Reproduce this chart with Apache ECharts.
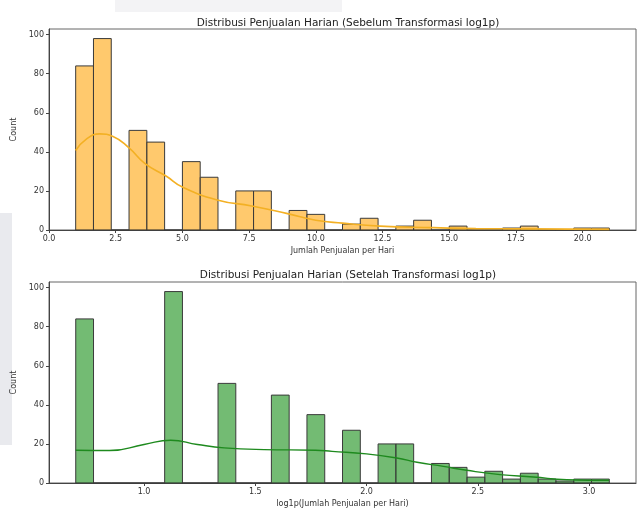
<!DOCTYPE html>
<html>
<head>
<meta charset="utf-8">
<script src="https://cdn.jsdelivr.net/npm/echarts@6/dist/echarts.min.js"></script>
<style>
  html, body { margin: 0; padding: 0; background: #fff; }
  #chart { width: 637px; height: 512px; }
</style>
</head>
<body>
<div id="chart"></div>
<script>
// jumlah penjualan per hari (1..21) dan berapa hari untuk tiap nilai
var salesValues = [1, 2, 3, 4, 5, 6, 7, 8, 9, 10, 11, 12, 13, 14, 15, 16, 17, 18, 19, 20, 21];
var salesCounts = [84, 98, 51, 45, 35, 27, 20, 20, 10, 8, 3, 6, 2, 5, 2, 0, 1, 2, 0, 1, 1];
var binCount = 30;

// kde yang terbaca dari gambar [x, density*count]
var kdeBefore = [[1.0, 40.7], [1.4, 46.5], [1.9, 49.2], [2.4, 47.9], [3.0, 42], [3.6, 34],
  [4.4, 27.5], [5.0, 22], [6.3, 15.4], [7.6, 12.3], [8.9, 8.5], [10.0, 5], [11.0, 3.5],
  [12.4, 2], [14.4, 1.2], [16, 0.7], [18, 0.6], [21, 0.3]];
var kdeAfter = [[0.693, 16.8], [0.845, 16.6], [1.0, 19.7], [1.12, 21.9], [1.24, 19.7],
  [1.36, 18], [1.54, 17.1], [1.77, 16.8], [1.845, 16.2], [2.0, 14.9], [2.136, 12.8],
  [2.227, 10.6], [2.345, 8.5], [2.45, 6.5], [2.6, 4.3], [2.75, 3.1], [2.9, 1.7], [3.09, 1.4]];

var xTicksBefore = [0, 2.5, 5, 7.5, 10, 12.5, 15, 17.5, 20];
var xTicksAfter = [1.0, 1.5, 2.0, 2.5, 3.0];
var yTicks = [0, 20, 40, 60, 80, 100];

// sama seperti histplot bins=30
function histogram(xs, counts, nb) {
  var lo = xs[0], hi = xs[xs.length - 1];
  var w = (hi - lo) / nb;
  var bins = [];
  for (var k = 0; k < nb; k++) bins.push(0);
  xs.forEach(function(x, i) {
    var k = Math.min(nb - 1, Math.floor((x - lo) / w + 1e-9));
    bins[k] += counts[i];
  });
  return bins.map(function(c, k) { return [lo + k * w, lo + (k + 1) * w, c]; });
}

var binsBefore = histogram(salesValues, salesCounts, binCount);
var binsAfter = histogram(salesValues.map(function(v) { return Math.log1p(v); }), salesCounts, binCount);

var font = "'DejaVu Sans', sans-serif";
var labelStyle = { color: '#333', fontSize: 8, fontFamily: font };

function barSeries(idx, bins, fill) {
  return {
    type: 'custom',
    xAxisIndex: idx,
    yAxisIndex: idx,
    data: bins,
    renderItem: function(params, api) {
      var p0 = api.coord([api.value(0), api.value(2)]);
      var p1 = api.coord([api.value(1), 0]);
      return {
        type: 'rect',
        shape: { x: p0[0], y: p0[1], width: p1[0] - p0[0], height: p1[1] - p0[1] },
        style: { fill: fill, stroke: '#3a3a3a', lineWidth: 1 }
      };
    }
  };
}

function xAxis(idx, min, max, ticks, name, digits) {
  return {
    type: 'value',
    gridIndex: idx,
    min: min,
    max: max,
    splitLine: { show: false },
    axisLine: { show: true, onZero: false, lineStyle: { color: '#444' } },
    axisTick: { show: true, length: 3, customValues: ticks, lineStyle: { color: '#444' } },
    axisLabel: Object.assign({ margin: 5, customValues: ticks,
      formatter: function(v) { return v.toFixed(digits); } }, labelStyle),
    name: name,
    nameLocation: 'middle',
    nameGap: 17,
    nameTextStyle: { color: '#333', fontSize: 8, fontFamily: font }
  };
}

function yAxis(idx) {
  return {
    type: 'value',
    gridIndex: idx,
    min: 0,
    max: 102.9,
    splitLine: { show: false },
    axisLine: { show: true, lineStyle: { color: '#444' } },
    axisTick: { show: true, length: 3, customValues: yTicks, lineStyle: { color: '#444' } },
    axisLabel: Object.assign({ margin: 5, customValues: yTicks }, labelStyle),
    name: 'Count',
    nameLocation: 'middle',
    nameGap: 21,
    nameTextStyle: { color: '#333', fontSize: 8, fontFamily: font }
  };
}

var chart = echarts.init(document.getElementById('chart'), null, { renderer: 'canvas' });

var option = {
  animation: false,
  backgroundColor: '#fff',
  graphic: [
    { type: 'rect', z: -10, shape: { x: 115, y: 0, width: 227, height: 12 }, style: { fill: '#f3f3f5' } },
    { type: 'rect', z: -10, shape: { x: 0, y: 213, width: 12, height: 232 }, style: { fill: '#e9eaee' } }
  ],
  title: [
    { text: 'Distribusi Penjualan Harian (Sebelum Transformasi log1p)', left: 343, top: 13, textAlign: 'center',
      textStyle: { fontSize: 10.5, fontWeight: 'normal', color: '#222', fontFamily: font } },
    { text: 'Distribusi Penjualan Harian (Setelah Transformasi log1p)', left: 343, top: 265, textAlign: 'center',
      textStyle: { fontSize: 10.5, fontWeight: 'normal', color: '#222', fontFamily: font } }
  ],
  grid: [
    { left: 49, right: 1, top: 29, height: 201, show: true, borderColor: '#666', borderWidth: 1 },
    { left: 49, right: 1, top: 282, height: 201, show: true, borderColor: '#666', borderWidth: 1 }
  ],
  xAxis: [
    xAxis(0, 0, 22, xTicksBefore, 'Jumlah Penjualan per Hari', 1),
    xAxis(1, 0.573, 3.211, xTicksAfter, 'log1p(Jumlah Penjualan per Hari)', 1)
  ],
  yAxis: [yAxis(0), yAxis(1)],
  series: [
    barSeries(0, binsBefore, 'rgba(255,176,40,0.68)'),
    {
      type: 'line', xAxisIndex: 0, yAxisIndex: 0, data: kdeBefore, smooth: 0.5,
      showSymbol: false, lineStyle: { color: '#f3b024', width: 1.6 }, z: 5
    },
    barSeries(1, binsAfter, 'rgba(40,150,40,0.65)'),
    {
      type: 'line', xAxisIndex: 1, yAxisIndex: 1, data: kdeAfter, smooth: 0.5,
      showSymbol: false, lineStyle: { color: '#1e8a1e', width: 1.4 }, z: 5
    }
  ]
};
chart.setOption(option);
</script>
</body>
</html>
